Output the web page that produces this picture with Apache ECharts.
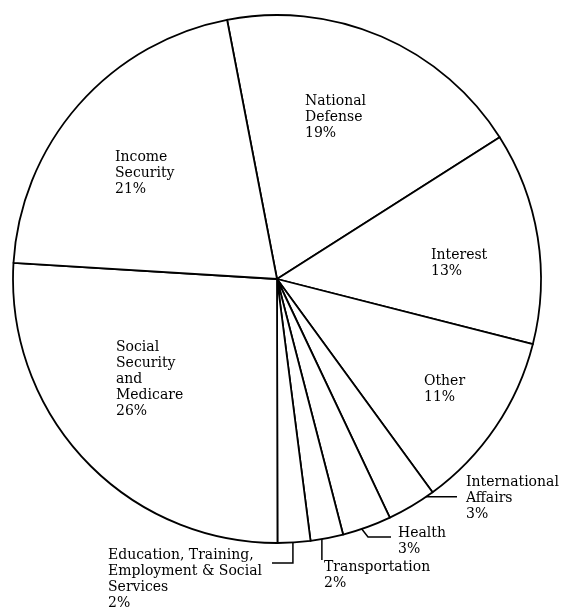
<!DOCTYPE html>
<html>
<head>
<meta charset="utf-8">
<script src="https://cdn.jsdelivr.net/npm/echarts@6/dist/echarts.min.js"></script>
<style>
  html, body { margin: 0; padding: 0; background: #fff; }
  #chart { width: 568px; height: 610px; }
</style>
</head>
<body>
<div id="chart"></div>
<script>
// Federal outlays by function, share of total (%)
const categories = [
  'National\nDefense',
  'Interest',
  'Other',
  'International\nAffairs',
  'Health',
  'Transportation',
  'Education, Training,\nEmployment & Social\nServices',
  'Social\nSecurity\nand\nMedicare',
  'Income\nSecurity'
];
const shares = [19, 13, 11, 3, 3, 2, 2, 26, 21];

// Top-left corner of each label block
const labelSpots = [
  [305, 93], [431, 247], [424, 373], [466, 474], [398, 525],
  [324, 559], [108, 547], [116, 339], [115, 149]
];

// Leader lines for the narrow slices: anchor inside the slice given as
// [fraction across the slice, fraction of the radius], then bend points
// (null = keep the previous coordinate)
const leaders = {
  3: { at: [0.38, 0.973], path: [[457, null]] },
  4: { at: [0.66, 0.973], path: [[368, 537], [391, 537]] },
  5: { at: [0.60, 0.962], path: [[null, 560]] },
  6: { at: [0.51, 0.953], path: [[null, 563], [272, 563]] }
};

const FONT = '"DejaVu Serif", "Liberation Serif", serif';
const INK = '#000';

const chart = echarts.init(document.getElementById('chart'), null, { renderer: 'canvas' });

chart.setOption({
  backgroundColor: '#fff',
  animation: false,
  series: [{
    type: 'pie',
    center: [277, 279],
    radius: 264,
    startAngle: 100.9,
    clockwise: true,
    avoidLabelOverlap: false,
    emphasis: { disabled: true },
    itemStyle: { color: '#fff', borderColor: INK, borderWidth: 1.8 },
    label: {
      show: true,
      position: 'inside',
      formatter: p => p.name + '\n' + p.value + '%',
      color: INK,
      fontFamily: FONT,
      fontSize: 14,
      lineHeight: 16,
      align: 'left'
    },
    labelLine: { show: false },
    labelLayout: p => ({
      x: labelSpots[p.dataIndex][0],
      y: labelSpots[p.dataIndex][1],
      align: 'left',
      verticalAlign: 'top'
    }),
    data: categories.map((name, i) => ({ name, value: shares[i] }))
  }]
});

// Draw leader lines anchored on the laid-out slices
const data = chart.getModel().getSeriesByIndex(0).getData();
const graphics = [];
Object.keys(leaders).forEach(k => {
  const i = +k;
  const lay = data.getItemLayout(i);
  const spec = leaders[i];
  const a = lay.startAngle + spec.at[0] * (lay.endAngle - lay.startAngle);
  const r = lay.r * spec.at[1];
  const pts = [[lay.cx + r * Math.cos(a), lay.cy + r * Math.sin(a)]];
  spec.path.forEach(([x, y]) => {
    const prev = pts[pts.length - 1];
    pts.push([x == null ? prev[0] : x, y == null ? prev[1] : y]);
  });
  graphics.push({
    type: 'polyline',
    shape: { points: pts },
    style: { stroke: INK, lineWidth: 1.5, fill: null },
    silent: true
  });
});
chart.setOption({ graphic: graphics });
</script>
</body>
</html>
